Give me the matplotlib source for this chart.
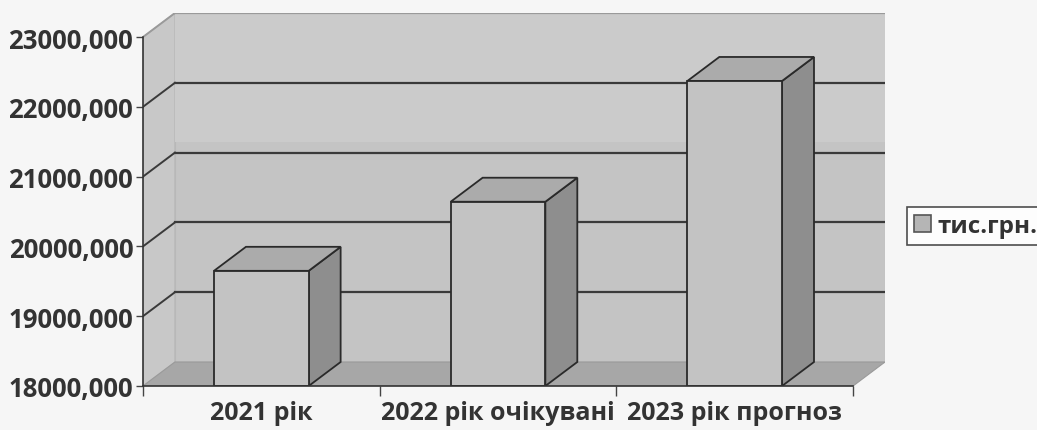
import matplotlib
matplotlib.use("Agg")
import matplotlib.pyplot as plt
from matplotlib.patches import Polygon, Patch
from matplotlib.ticker import FixedLocator

plt.rcParams['font.family'] = ['Open Sans', 'DejaVu Sans']
plt.rcParams['font.weight'] = 'bold'

# data
categories = ['2021 рік', '2022 рік очікувані', '2023 рік прогноз']
values = [19650, 20640, 22370]
series_name = 'тис.грн.'
y_ticks = [18000, 19000, 20000, 21000, 22000, 23000]

# fake 3d depth (in data units)
dx = 0.135
dy = 344
bar_w = 0.40
base = 18000

fig = plt.figure(figsize=(10.37, 4.31), dpi=100, facecolor='#f6f6f6')
ax = fig.add_axes([143 / 1037, 1 - 387 / 431, (885 - 143) / 1037, (387 - 14) / 431])
ax.set_facecolor('none')
ax.set_xlim(-0.5, 2.5 + dx)
ax.set_ylim(base, y_ticks[-1] + dy)

x0, x1 = -0.5, len(categories) - 0.5
ytop = y_ticks[-1]

# back wall, lower halftone part and smoother upper band
ax.add_patch(Polygon([(x0 + dx, base + dy), (x1 + dx, base + dy),
                      (x1 + dx, ytop + dy), (x0 + dx, ytop + dy)],
                     closed=True, fc='#c4c4c4', ec='#bdbdbd', lw=0.8, zorder=1))
ax.add_patch(Polygon([(x0 + dx, 21150 + dy), (x1 + dx, 21150 + dy),
                      (x1 + dx, ytop + dy), (x0 + dx, ytop + dy)],
                     closed=True, fc='#cbcbcb', ec='none', zorder=1.1))
# left side wall
ax.add_patch(Polygon([(x0, base), (x0, ytop), (x0 + dx, ytop + dy), (x0 + dx, base + dy)],
                     closed=True, fc='#c8c8c8', ec='#b5b5b5', lw=0.8, zorder=1))

# gridlines on back wall and side wall
for v in y_ticks[1:]:
    c = '#3a3a3a' if v < ytop else '#9a9a9a'
    ax.plot([x0 + dx, x1 + dx], [v + dy, v + dy], color=c, lw=1.6, zorder=2)
    ax.plot([x0, x0 + dx], [v, v + dy], color=c, lw=1.4, zorder=2)

# floor
ax.add_patch(Polygon([(x0, base), (x1, base), (x1 + dx, base + dy), (x0 + dx, base + dy)],
                     closed=True, fc='#a7a7a7', ec='#9a9a9a', lw=0.8, zorder=3))

# bars
for i, v in enumerate(values):
    l, r = i - bar_w / 2, i + bar_w / 2
    side = [(r, base), (r + dx, base + dy), (r + dx, v + dy), (r, v)]
    top = [(l, v), (r, v), (r + dx, v + dy), (l + dx, v + dy)]
    front = [(l, base), (r, base), (r, v), (l, v)]
    ax.add_patch(Polygon(side, closed=True, fc='#8e8e8e', ec='#2a2a2a', lw=1.3, zorder=4))
    ax.add_patch(Polygon(top, closed=True, fc='#ababab', ec='#2a2a2a', lw=1.3, zorder=4))
    ax.add_patch(Polygon(front, closed=True, fc='#c3c3c3', ec='#2a2a2a', lw=1.3, zorder=5))

# axes styling
for s in ['top', 'right']:
    ax.spines[s].set_visible(False)
ax.spines['left'].set_bounds(base, ytop)
ax.spines['bottom'].set_bounds(x0, x1)
for s in ['left', 'bottom']:
    ax.spines[s].set_color('#333333')
    ax.spines[s].set_linewidth(1.2)
    ax.spines[s].set_zorder(6)

ax.set_yticks(y_ticks)
ax.set_yticklabels([f'{v},000' for v in y_ticks], fontweight='bold')
ax.tick_params(axis='y', length=5, width=1, color='#444444', pad=2,
               labelsize=18.5, labelcolor='#333333')

ax.set_xticks(range(len(categories)))
ax.set_xticklabels(categories, fontweight='bold')
ax.xaxis.set_minor_locator(FixedLocator([x0 + k for k in range(len(categories) + 1)]))
ax.tick_params(axis='x', which='major', length=0, pad=10, labelsize=18, labelcolor='#333333')
ax.tick_params(axis='x', which='minor', length=7, width=1, color='#444444')

# legend
handle = Patch(facecolor='#b5b5b5', edgecolor='#555555', linewidth=1.2)
leg = fig.legend([handle], [series_name], loc='center left',
                 bbox_to_anchor=(907 / 1037, 1 - 227 / 431), frameon=True,
                 fancybox=False, borderaxespad=0, handlelength=0.7, handleheight=0.7,
                 handletextpad=0.25, borderpad=0.3,
                 prop={'size': 17.5, 'weight': 'bold'})
leg.get_frame().set_edgecolor('#222222')
leg.get_frame().set_linewidth(1.2)
leg.get_frame().set_facecolor('white')
for t in leg.get_texts():
    t.set_color('#333333')

fig.savefig('out.png', dpi=100, facecolor=fig.get_facecolor())
